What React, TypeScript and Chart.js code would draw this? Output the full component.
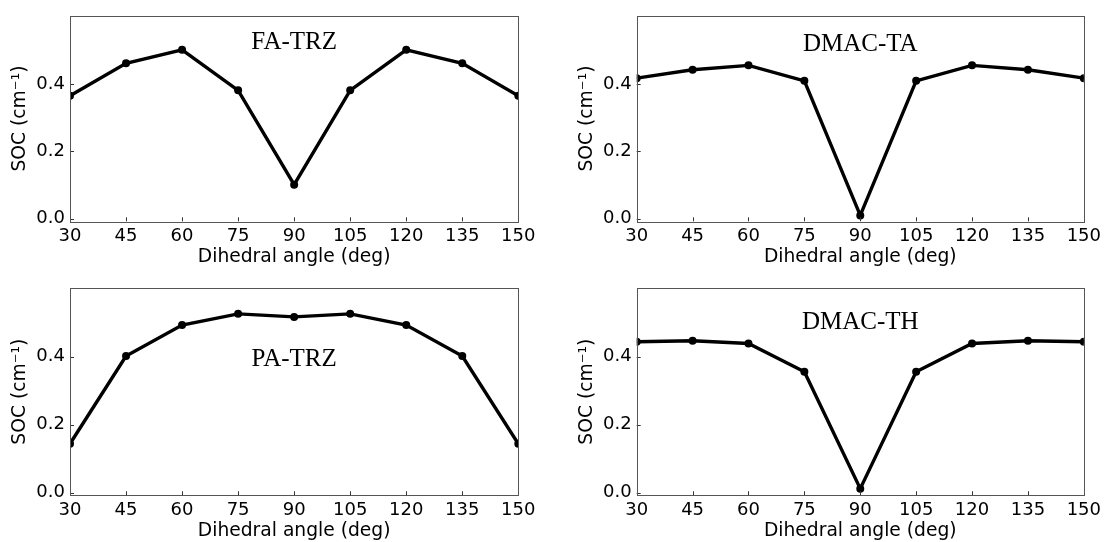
import React, { useEffect, useRef } from 'react';
import { Chart, registerables } from 'chart.js';

Chart.register(...registerables);

// ---- data ----
const angles = [30, 45, 60, 75, 90, 105, 120, 135, 150];
const faTrz = [0.365, 0.461, 0.501, 0.381, 0.101, 0.381, 0.501, 0.461, 0.365];
const dmacTa = [0.417, 0.442, 0.455, 0.409, 0.01, 0.409, 0.455, 0.442, 0.417];
const paTrz = [0.144, 0.402, 0.493, 0.526, 0.517, 0.526, 0.493, 0.402, 0.144];
const dmacTh = [0.444, 0.447, 0.439, 0.356, 0.012, 0.356, 0.439, 0.447, 0.444];
const yTickValues = [0, 0.2, 0.4];
const panelNames = ['FA-TRZ', 'DMAC-TA', 'PA-TRZ', 'DMAC-TH'];
const panelNameY = [0.524, 0.517, 0.393, 0.5];
const xAxisTitle = 'Dihedral angle (deg)';
const yAxisTitle = 'SOC (cm\u207B\u00B9)';

const seriesList = [faTrz, dmacTa, paTrz, dmacTh];

// ---- layout (per panel) ----
const panels = [
  { left: 0, top: 0, width: 552, height: 271, padL: 0, padT: 14, padR: 33.7, xAxisH: 49.7, xTitlePad: 3 },
  { left: 552, top: 0, width: 553, height: 271, padL: 14.7, padT: 14, padR: 20, xAxisH: 49.7, xTitlePad: 3 },
  { left: 0, top: 271, width: 552, height: 271, padL: 0, padT: 17, padR: 33.7, xAxisH: 46.7, xTitlePad: 0 },
  { left: 552, top: 271, width: 553, height: 271, padL: 14.7, padT: 17, padR: 20, xAxisH: 46.7, xTitlePad: 0 },
];

const framePlugin = {
  id: 'frame',
  afterDatasetsDraw(chart: any, _args: any, opts: any) {
    const { ctx, chartArea: a, scales } = chart;
    ctx.save();
    ctx.strokeStyle = '#333';
    ctx.lineWidth = 1;
    ctx.beginPath();
    scales.x.ticks.forEach((t: any) => {
      const px = Math.round(scales.x.getPixelForValue(t.value)) + 0.5;
      ctx.moveTo(px, a.bottom);
      ctx.lineTo(px, a.bottom - 4);
    });
    scales.y.ticks.forEach((t: any) => {
      const py = Math.round(scales.y.getPixelForValue(t.value)) + 0.5;
      ctx.moveTo(a.left, py);
      ctx.lineTo(a.left + 4, py);
    });
    ctx.stroke();
    ctx.strokeStyle = '#555';
    ctx.strokeRect(Math.round(a.left) + 0.5, Math.round(a.top) + 0.5, Math.round(a.right - a.left), Math.round(a.bottom - a.top));
    ctx.font = '25px "Liberation Serif"';
    ctx.fillStyle = '#000';
    ctx.textAlign = 'center';
    ctx.textBaseline = 'middle';
    ctx.fillText(opts.text, (a.left + a.right) / 2, scales.y.getPixelForValue(opts.y));
    ctx.restore();
  },
};

function Panel({ idx }: { idx: number }) {
  const ref = useRef<HTMLCanvasElement>(null);
  const p = panels[idx];
  useEffect(() => {
    if (!ref.current) return;
    const tickFont = { family: 'DejaVu Sans', size: 18 };
    const titleFont = { family: 'DejaVu Sans', size: 18.7 };
    const chart = new Chart(ref.current, {
      type: 'line',
      data: {
        labels: angles,
        datasets: [
          {
            data: angles.map((a, i) => ({ x: a, y: seriesList[idx][i] })),
            borderColor: '#000',
            backgroundColor: '#000',
            borderWidth: 3.4,
            pointRadius: 4,
            pointBorderWidth: 0,
            pointBackgroundColor: '#000',
            tension: 0,
            clip: 0,
          } as any,
        ],
      },
      options: {
        responsive: false,
        animation: false,
        devicePixelRatio: 1,
        layout: { padding: { left: p.padL, top: p.padT, right: p.padR, bottom: 0 } },
        plugins: {
          legend: { display: false },
          tooltip: { enabled: false },
          frame: { text: panelNames[idx], y: panelNameY[idx] },
        } as any,
        scales: {
          x: {
            type: 'linear',
            min: 30,
            max: 150,
            grid: { display: false, drawTicks: false },
            border: { display: false },
            ticks: { stepSize: 15, padding: 4, font: tickFont, color: '#000', maxRotation: 0, autoSkip: false },
            title: { display: true, text: xAxisTitle, font: titleFont, color: '#000', padding: { top: 0, bottom: p.xTitlePad } },
            afterFit: (s: any) => { s.height = p.xAxisH; },
          },
          y: {
            type: 'linear',
            min: -0.0075,
            max: 0.602,
            grid: { display: false, drawTicks: false },
            border: { display: false },
            afterBuildTicks: (s: any) => { s.ticks = yTickValues.map((v) => ({ value: v })); },
            ticks: { padding: 5, font: tickFont, color: '#000', callback: (v: any) => Number(v).toFixed(1) },
            title: { display: true, text: yAxisTitle, font: titleFont, color: '#000', padding: { top: 8.8, bottom: 0 } },
            afterFit: (s: any) => { s.width = 70; },
          },
        },
      } as any,
      plugins: [framePlugin as any],
    });
    return () => chart.destroy();
  }, [idx]);
  return (
    <canvas
      ref={ref}
      width={p.width}
      height={p.height}
      style={{ position: 'absolute', left: p.left, top: p.top, width: p.width, height: p.height }}
    />
  );
}

export default function App() {
  return (
    <div style={{ position: 'absolute', left: 0, top: 0, width: 1105, height: 542, background: '#fff' }}>
      {panels.map((_, i) => (
        <Panel key={i} idx={i} />
      ))}
    </div>
  );
}
